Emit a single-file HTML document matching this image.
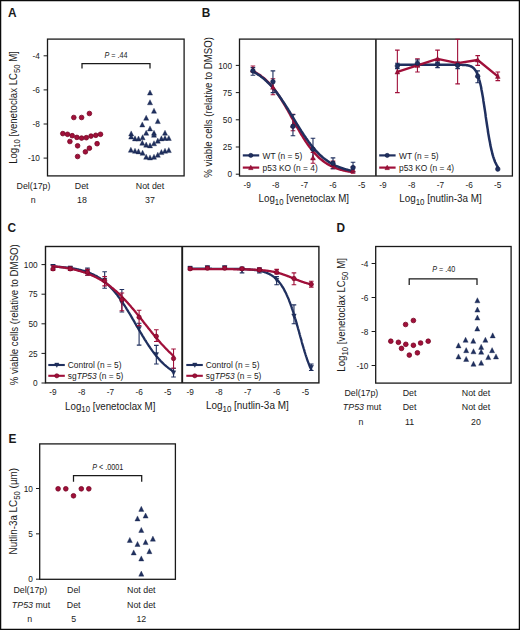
<!DOCTYPE html>
<html><head><meta charset="utf-8"><style>
html,body{margin:0;padding:0;background:#fff;}
body{width:520px;height:630px;overflow:hidden;}
svg{display:block;font-family:"Liberation Sans", sans-serif;}
text{fill:#1a1a1a;}
</style></head><body>
<svg width="520" height="630" viewBox="0 0 520 630">
<rect x="0.6" y="0.6" width="518.8" height="628.8" fill="#fff" stroke="#0a0a0a" stroke-width="1.3"/>
<text transform="translate(8.0,16.9) scale(0.9,1)" font-size="13.2" font-weight="bold">A</text>
<text transform="translate(201.7,16.9) scale(0.9,1)" font-size="13.2" font-weight="bold">B</text>
<text transform="translate(7.6,232.2) scale(0.9,1)" font-size="13.2" font-weight="bold">C</text>
<text transform="translate(336.4,231.5) scale(0.9,1)" font-size="13.2" font-weight="bold">D</text>
<text transform="translate(8.5,442.7) scale(0.9,1)" font-size="13.2" font-weight="bold">E</text>
<rect x="47.50" y="39.10" width="136.60" height="136.80" fill="none" stroke="#1a1a1a" stroke-width="1.3"/>
<line x1="43.60" y1="55.80" x2="47.50" y2="55.80" stroke="#1a1a1a" stroke-width="1"/>
<text transform="translate(39.90,58.95) scale(0.940,1)" font-size="8.80" text-anchor="end" font-weight="normal">-4</text>
<line x1="43.60" y1="89.90" x2="47.50" y2="89.90" stroke="#1a1a1a" stroke-width="1"/>
<text transform="translate(39.90,93.05) scale(0.940,1)" font-size="8.80" text-anchor="end" font-weight="normal">-6</text>
<line x1="43.60" y1="124.00" x2="47.50" y2="124.00" stroke="#1a1a1a" stroke-width="1"/>
<text transform="translate(39.90,127.15) scale(0.940,1)" font-size="8.80" text-anchor="end" font-weight="normal">-8</text>
<line x1="43.60" y1="158.10" x2="47.50" y2="158.10" stroke="#1a1a1a" stroke-width="1"/>
<text transform="translate(39.90,161.25) scale(0.940,1)" font-size="8.80" text-anchor="end" font-weight="normal">-10</text>
<text transform="translate(17.30,107.50) rotate(-90)" font-size="10.20" text-anchor="middle" textLength="112.60" lengthAdjust="spacingAndGlyphs">Log<tspan font-size="8.2" dy="2.5">10</tspan><tspan dy="-2.5"> [venetoclax LC<tspan font-size="8.2" dy="2.5">50</tspan><tspan dy="-2.5"> M]</tspan></tspan></text>
<path d="M82,68.5 V63.5 H150 V68.5" fill="none" stroke="#1a1a1a" stroke-width="1.25"/>
<text transform="translate(116.00,58.30) scale(0.880,1)" font-size="8.20" text-anchor="middle" font-weight="normal"><tspan font-style="italic">P</tspan> = .44</text>
<circle cx="73.80" cy="117.50" r="2.35" fill="#a0103a" stroke="#72001f" stroke-width="0.75"/>
<circle cx="81.60" cy="117.50" r="2.35" fill="#a0103a" stroke="#72001f" stroke-width="0.75"/>
<circle cx="89.40" cy="113.50" r="2.35" fill="#a0103a" stroke="#72001f" stroke-width="0.75"/>
<circle cx="62.80" cy="133.60" r="2.35" fill="#a0103a" stroke="#72001f" stroke-width="0.75"/>
<circle cx="67.50" cy="134.30" r="2.35" fill="#a0103a" stroke="#72001f" stroke-width="0.75"/>
<circle cx="72.20" cy="135.70" r="2.35" fill="#a0103a" stroke="#72001f" stroke-width="0.75"/>
<circle cx="76.90" cy="137.40" r="2.35" fill="#a0103a" stroke="#72001f" stroke-width="0.75"/>
<circle cx="81.60" cy="138.10" r="2.35" fill="#a0103a" stroke="#72001f" stroke-width="0.75"/>
<circle cx="86.30" cy="137.70" r="2.35" fill="#a0103a" stroke="#72001f" stroke-width="0.75"/>
<circle cx="91.00" cy="136.10" r="2.35" fill="#a0103a" stroke="#72001f" stroke-width="0.75"/>
<circle cx="95.80" cy="135.30" r="2.35" fill="#a0103a" stroke="#72001f" stroke-width="0.75"/>
<circle cx="100.50" cy="134.30" r="2.35" fill="#a0103a" stroke="#72001f" stroke-width="0.75"/>
<circle cx="69.90" cy="141.50" r="2.35" fill="#a0103a" stroke="#72001f" stroke-width="0.75"/>
<circle cx="77.60" cy="145.80" r="2.35" fill="#a0103a" stroke="#72001f" stroke-width="0.75"/>
<circle cx="97.10" cy="143.70" r="2.35" fill="#a0103a" stroke="#72001f" stroke-width="0.75"/>
<circle cx="89.40" cy="148.20" r="2.35" fill="#a0103a" stroke="#72001f" stroke-width="0.75"/>
<circle cx="85.40" cy="151.80" r="2.35" fill="#a0103a" stroke="#72001f" stroke-width="0.75"/>
<circle cx="77.60" cy="156.50" r="2.35" fill="#a0103a" stroke="#72001f" stroke-width="0.75"/>
<polygon points="150.00,89.99 147.45,95.09 152.55,95.09" fill="#20305f" stroke="#121f48" stroke-width="0.35" stroke-linejoin="round"/>
<polygon points="150.00,99.69 147.45,104.80 152.55,104.80" fill="#20305f" stroke="#121f48" stroke-width="0.35" stroke-linejoin="round"/>
<polygon points="154.00,108.19 151.45,113.30 156.55,113.30" fill="#20305f" stroke="#121f48" stroke-width="0.35" stroke-linejoin="round"/>
<polygon points="146.20,115.19 143.65,120.30 148.75,120.30" fill="#20305f" stroke="#121f48" stroke-width="0.35" stroke-linejoin="round"/>
<polygon points="157.80,118.49 155.25,123.59 160.35,123.59" fill="#20305f" stroke="#121f48" stroke-width="0.35" stroke-linejoin="round"/>
<polygon points="142.30,121.89 139.75,127.00 144.85,127.00" fill="#20305f" stroke="#121f48" stroke-width="0.35" stroke-linejoin="round"/>
<polygon points="150.00,125.89 147.45,130.99 152.55,130.99" fill="#20305f" stroke="#121f48" stroke-width="0.35" stroke-linejoin="round"/>
<polygon points="146.20,130.19 143.65,135.29 148.75,135.29" fill="#20305f" stroke="#121f48" stroke-width="0.35" stroke-linejoin="round"/>
<polygon points="154.00,130.19 151.45,135.29 156.55,135.29" fill="#20305f" stroke="#121f48" stroke-width="0.35" stroke-linejoin="round"/>
<polygon points="154.00,132.19 151.45,137.29 156.55,137.29" fill="#20305f" stroke="#121f48" stroke-width="0.35" stroke-linejoin="round"/>
<polygon points="131.20,130.89 128.65,135.99 133.75,135.99" fill="#20305f" stroke="#121f48" stroke-width="0.35" stroke-linejoin="round"/>
<polygon points="165.00,130.19 162.45,135.29 167.55,135.29" fill="#20305f" stroke="#121f48" stroke-width="0.35" stroke-linejoin="round"/>
<polygon points="131.20,134.00 128.65,139.09 133.75,139.09" fill="#20305f" stroke="#121f48" stroke-width="0.35" stroke-linejoin="round"/>
<polygon points="135.00,135.79 132.45,140.89 137.55,140.89" fill="#20305f" stroke="#121f48" stroke-width="0.35" stroke-linejoin="round"/>
<polygon points="138.50,136.00 135.95,141.09 141.05,141.09" fill="#20305f" stroke="#121f48" stroke-width="0.35" stroke-linejoin="round"/>
<polygon points="142.60,134.69 140.05,139.79 145.15,139.79" fill="#20305f" stroke="#121f48" stroke-width="0.35" stroke-linejoin="round"/>
<polygon points="157.80,138.09 155.25,143.19 160.35,143.19" fill="#20305f" stroke="#121f48" stroke-width="0.35" stroke-linejoin="round"/>
<polygon points="161.40,135.79 158.85,140.89 163.95,140.89" fill="#20305f" stroke="#121f48" stroke-width="0.35" stroke-linejoin="round"/>
<polygon points="165.00,135.39 162.45,140.49 167.55,140.49" fill="#20305f" stroke="#121f48" stroke-width="0.35" stroke-linejoin="round"/>
<polygon points="168.80,135.39 166.25,140.49 171.35,140.49" fill="#20305f" stroke="#121f48" stroke-width="0.35" stroke-linejoin="round"/>
<polygon points="142.30,140.19 139.75,145.29 144.85,145.29" fill="#20305f" stroke="#121f48" stroke-width="0.35" stroke-linejoin="round"/>
<polygon points="146.20,142.09 143.65,147.19 148.75,147.19" fill="#20305f" stroke="#121f48" stroke-width="0.35" stroke-linejoin="round"/>
<polygon points="150.00,142.79 147.45,147.89 152.55,147.89" fill="#20305f" stroke="#121f48" stroke-width="0.35" stroke-linejoin="round"/>
<polygon points="154.00,140.69 151.45,145.79 156.55,145.79" fill="#20305f" stroke="#121f48" stroke-width="0.35" stroke-linejoin="round"/>
<polygon points="130.90,147.19 128.35,152.29 133.45,152.29" fill="#20305f" stroke="#121f48" stroke-width="0.35" stroke-linejoin="round"/>
<polygon points="135.00,148.19 132.45,153.29 137.55,153.29" fill="#20305f" stroke="#121f48" stroke-width="0.35" stroke-linejoin="round"/>
<polygon points="138.50,148.79 135.95,153.89 141.05,153.89" fill="#20305f" stroke="#121f48" stroke-width="0.35" stroke-linejoin="round"/>
<polygon points="142.60,150.19 140.05,155.29 145.15,155.29" fill="#20305f" stroke="#121f48" stroke-width="0.35" stroke-linejoin="round"/>
<polygon points="146.20,154.19 143.65,159.29 148.75,159.29" fill="#20305f" stroke="#121f48" stroke-width="0.35" stroke-linejoin="round"/>
<polygon points="150.00,154.89 147.45,159.99 152.55,159.99" fill="#20305f" stroke="#121f48" stroke-width="0.35" stroke-linejoin="round"/>
<polygon points="154.00,154.19 151.45,159.29 156.55,159.29" fill="#20305f" stroke="#121f48" stroke-width="0.35" stroke-linejoin="round"/>
<polygon points="157.80,152.19 155.25,157.29 160.35,157.29" fill="#20305f" stroke="#121f48" stroke-width="0.35" stroke-linejoin="round"/>
<polygon points="161.40,149.50 158.85,154.59 163.95,154.59" fill="#20305f" stroke="#121f48" stroke-width="0.35" stroke-linejoin="round"/>
<polygon points="165.00,148.19 162.45,153.29 167.55,153.29" fill="#20305f" stroke="#121f48" stroke-width="0.35" stroke-linejoin="round"/>
<polygon points="168.80,147.50 166.25,152.59 171.35,152.59" fill="#20305f" stroke="#121f48" stroke-width="0.35" stroke-linejoin="round"/>
<text transform="translate(33.50,188.60) scale(0.910,1)" font-size="9.70" text-anchor="middle" font-weight="normal">Del(17p)</text>
<text transform="translate(81.70,188.60) scale(0.910,1)" font-size="9.70" text-anchor="middle" font-weight="normal">Det</text>
<text transform="translate(150.00,188.60) scale(0.910,1)" font-size="9.70" text-anchor="middle" font-weight="normal">Not det</text>
<text transform="translate(33.20,203.30) scale(0.910,1)" font-size="9.70" text-anchor="middle" font-weight="normal">n</text>
<text transform="translate(82.00,203.30) scale(0.910,1)" font-size="9.70" text-anchor="middle" font-weight="normal">18</text>
<text transform="translate(150.00,203.30) scale(0.910,1)" font-size="9.70" text-anchor="middle" font-weight="normal">37</text>
<rect x="239.50" y="39.10" width="272.90" height="136.90" fill="none" stroke="#1a1a1a" stroke-width="1.3"/>
<line x1="375.90" y1="39.10" x2="375.90" y2="176.00" stroke="#2a2a2a" stroke-width="1.7"/>
<line x1="235.80" y1="174.20" x2="239.50" y2="174.20" stroke="#1a1a1a" stroke-width="1"/>
<text transform="translate(232.00,177.35) scale(0.940,1)" font-size="8.80" text-anchor="end" font-weight="normal">0</text>
<line x1="235.80" y1="147.00" x2="239.50" y2="147.00" stroke="#1a1a1a" stroke-width="1"/>
<text transform="translate(232.00,150.15) scale(0.940,1)" font-size="8.80" text-anchor="end" font-weight="normal">25</text>
<line x1="235.80" y1="119.80" x2="239.50" y2="119.80" stroke="#1a1a1a" stroke-width="1"/>
<text transform="translate(232.00,122.95) scale(0.940,1)" font-size="8.80" text-anchor="end" font-weight="normal">50</text>
<line x1="235.80" y1="92.60" x2="239.50" y2="92.60" stroke="#1a1a1a" stroke-width="1"/>
<text transform="translate(232.00,95.75) scale(0.940,1)" font-size="8.80" text-anchor="end" font-weight="normal">75</text>
<line x1="235.80" y1="65.40" x2="239.50" y2="65.40" stroke="#1a1a1a" stroke-width="1"/>
<text transform="translate(232.00,68.55) scale(0.940,1)" font-size="8.80" text-anchor="end" font-weight="normal">100</text>
<text transform="translate(211.50,107.40) rotate(-90)" font-size="10.20" text-anchor="middle" textLength="140.60" lengthAdjust="spacingAndGlyphs">% viable cells (relative to DMSO)</text>
<text transform="translate(247.20,187.85) scale(0.940,1)" font-size="8.80" text-anchor="middle" font-weight="normal">-9</text>
<text transform="translate(383.00,187.85) scale(0.940,1)" font-size="8.80" text-anchor="middle" font-weight="normal">-9</text>
<text transform="translate(275.80,187.85) scale(0.940,1)" font-size="8.80" text-anchor="middle" font-weight="normal">-8</text>
<text transform="translate(411.70,187.85) scale(0.940,1)" font-size="8.80" text-anchor="middle" font-weight="normal">-8</text>
<text transform="translate(304.40,187.85) scale(0.940,1)" font-size="8.80" text-anchor="middle" font-weight="normal">-7</text>
<text transform="translate(440.40,187.85) scale(0.940,1)" font-size="8.80" text-anchor="middle" font-weight="normal">-7</text>
<text transform="translate(333.00,187.85) scale(0.940,1)" font-size="8.80" text-anchor="middle" font-weight="normal">-6</text>
<text transform="translate(469.10,187.85) scale(0.940,1)" font-size="8.80" text-anchor="middle" font-weight="normal">-6</text>
<text transform="translate(361.60,187.85) scale(0.940,1)" font-size="8.80" text-anchor="middle" font-weight="normal">-5</text>
<text transform="translate(497.80,187.85) scale(0.940,1)" font-size="8.80" text-anchor="middle" font-weight="normal">-5</text>
<text x="258.60" y="202.30" font-size="10.20" text-anchor="start" font-weight="normal" textLength="90.40" lengthAdjust="spacingAndGlyphs">Log<tspan font-size="8.2" dy="2.5">10</tspan><tspan dy="-2.5"> [venetoclax M]</tspan></text>
<text x="399.20" y="202.40" font-size="10.20" text-anchor="start" font-weight="normal" textLength="82.50" lengthAdjust="spacingAndGlyphs">Log<tspan font-size="8.2" dy="2.5">10</tspan><tspan dy="-2.5"> [nutlin-3a M]</tspan></text>
<path d="M250.62,71.93H255.22M252.92,71.93V65.94M250.62,65.94H255.22" stroke="#a0103a" stroke-width="1.1" fill="none"/>
<path d="M270.64,94.78H275.24M272.94,94.78V78.78M270.64,78.78H275.24" stroke="#a0103a" stroke-width="1.1" fill="none"/>
<path d="M290.66,130.68H295.26M292.96,130.68V114.36M290.66,114.36H295.26" stroke="#a0103a" stroke-width="1.1" fill="none"/>
<path d="M310.68,163.32H315.28M312.98,163.32V152.44M310.68,152.44H315.28" stroke="#a0103a" stroke-width="1.1" fill="none"/>
<path d="M330.70,168.76H335.30M333.00,168.76V161.14M330.70,161.14H335.30" stroke="#a0103a" stroke-width="1.1" fill="none"/>
<path d="M350.72,173.11H355.32M353.02,173.11V166.58M350.72,166.58H355.32" stroke="#a0103a" stroke-width="1.1" fill="none"/>
<path d="M250.62,75.19H255.22M252.92,75.19V67.58M250.62,67.58H255.22" stroke="#20305f" stroke-width="1.1" fill="none"/>
<path d="M270.64,92.60H275.24M272.94,92.60V70.84M270.64,70.84H275.24" stroke="#20305f" stroke-width="1.1" fill="none"/>
<path d="M290.66,135.68H295.26M292.96,135.68V114.58M290.66,114.58H295.26" stroke="#20305f" stroke-width="1.1" fill="none"/>
<path d="M310.68,158.97H315.28M312.98,158.97V138.30M310.68,138.30H315.28" stroke="#20305f" stroke-width="1.1" fill="none"/>
<path d="M330.70,168.76H335.30M333.00,168.76V157.88M330.70,157.88H335.30" stroke="#20305f" stroke-width="1.1" fill="none"/>
<path d="M350.72,172.02H355.32M353.02,172.02V162.23M350.72,162.23H355.32" stroke="#20305f" stroke-width="1.1" fill="none"/>
<path d="M252.9,71.2 L253.6,71.5 L254.3,71.9 L255.1,72.3 L255.8,72.7 L256.5,73.1 L257.2,73.5 L257.9,73.9 L258.6,74.4 L259.4,74.8 L260.1,75.3 L260.8,75.8 L261.5,76.4 L262.2,76.9 L262.9,77.5 L263.6,78.0 L264.4,78.6 L265.1,79.3 L265.8,79.9 L266.5,80.6 L267.2,81.3 L267.9,82.0 L268.6,82.7 L269.4,83.5 L270.1,84.2 L270.8,85.1 L271.5,85.9 L272.2,86.7 L272.9,87.6 L273.7,88.5 L274.4,89.4 L275.1,90.3 L275.8,91.3 L276.5,92.3 L277.2,93.3 L277.9,94.3 L278.7,95.4 L279.4,96.5 L280.1,97.6 L280.8,98.7 L281.5,99.8 L282.2,100.9 L282.9,102.1 L283.7,103.3 L284.4,104.5 L285.1,105.7 L285.8,106.9 L286.5,108.2 L287.2,109.4 L288.0,110.7 L288.7,112.0 L289.4,113.2 L290.1,114.5 L290.8,115.8 L291.5,117.1 L292.2,118.4 L293.0,119.7 L293.7,121.0 L294.4,122.3 L295.1,123.6 L295.8,124.9 L296.5,126.1 L297.2,127.4 L298.0,128.7 L298.7,129.9 L299.4,131.1 L300.1,132.4 L300.8,133.6 L301.5,134.8 L302.3,135.9 L303.0,137.1 L303.7,138.3 L304.4,139.4 L305.1,140.5 L305.8,141.6 L306.5,142.6 L307.3,143.7 L308.0,144.7 L308.7,145.7 L309.4,146.7 L310.1,147.6 L310.8,148.6 L311.6,149.5 L312.3,150.4 L313.0,151.2 L313.7,152.1 L314.4,152.9 L315.1,153.7 L315.8,154.4 L316.6,155.2 L317.3,155.9 L318.0,156.6 L318.7,157.3 L319.4,158.0 L320.1,158.6 L320.8,159.2 L321.6,159.8 L322.3,160.4 L323.0,160.9 L323.7,161.5 L324.4,162.0 L325.1,162.5 L325.9,163.0 L326.6,163.4 L327.3,163.9 L328.0,164.3 L328.7,164.7 L329.4,165.1 L330.1,165.5 L330.9,165.9 L331.6,166.2 L332.3,166.6 L333.0,166.9 L333.7,167.2 L334.4,167.5 L335.1,167.8 L335.9,168.1 L336.6,168.3 L337.3,168.6 L338.0,168.8 L338.7,169.1 L339.4,169.3 L340.1,169.5 L340.9,169.7 L341.6,169.9 L342.3,170.1 L343.0,170.3 L343.7,170.4 L344.4,170.6 L345.2,170.8 L345.9,170.9 L346.6,171.1 L347.3,171.2 L348.0,171.3 L348.7,171.5 L349.4,171.6 L350.2,171.7 L350.9,171.8 L351.6,171.9 L352.3,172.0 L353.0,172.1" fill="none" stroke="#a0103a" stroke-width="2.5" stroke-linejoin="round" stroke-linecap="round"/>
<path d="M252.9,71.5 L253.6,71.9 L254.3,72.3 L255.1,72.7 L255.8,73.1 L256.5,73.5 L257.2,73.9 L257.9,74.4 L258.6,74.9 L259.4,75.3 L260.1,75.8 L260.8,76.4 L261.5,76.9 L262.2,77.4 L262.9,78.0 L263.6,78.6 L264.4,79.2 L265.1,79.8 L265.8,80.5 L266.5,81.1 L267.2,81.8 L267.9,82.5 L268.6,83.2 L269.4,83.9 L270.1,84.7 L270.8,85.4 L271.5,86.2 L272.2,87.0 L272.9,87.9 L273.7,88.7 L274.4,89.6 L275.1,90.5 L275.8,91.4 L276.5,92.3 L277.2,93.2 L277.9,94.2 L278.7,95.2 L279.4,96.2 L280.1,97.2 L280.8,98.2 L281.5,99.2 L282.2,100.3 L282.9,101.4 L283.7,102.5 L284.4,103.6 L285.1,104.7 L285.8,105.8 L286.5,106.9 L287.2,108.1 L288.0,109.2 L288.7,110.4 L289.4,111.5 L290.1,112.7 L290.8,113.9 L291.5,115.0 L292.2,116.2 L293.0,117.4 L293.7,118.6 L294.4,119.8 L295.1,121.0 L295.8,122.1 L296.5,123.3 L297.2,124.5 L298.0,125.7 L298.7,126.8 L299.4,128.0 L300.1,129.1 L300.8,130.2 L301.5,131.4 L302.3,132.5 L303.0,133.6 L303.7,134.7 L304.4,135.7 L305.1,136.8 L305.8,137.8 L306.5,138.9 L307.3,139.9 L308.0,140.9 L308.7,141.9 L309.4,142.8 L310.1,143.8 L310.8,144.7 L311.6,145.6 L312.3,146.5 L313.0,147.4 L313.7,148.2 L314.4,149.1 L315.1,149.9 L315.8,150.7 L316.6,151.4 L317.3,152.2 L318.0,152.9 L318.7,153.7 L319.4,154.4 L320.1,155.0 L320.8,155.7 L321.6,156.3 L322.3,157.0 L323.0,157.6 L323.7,158.2 L324.4,158.7 L325.1,159.3 L325.9,159.8 L326.6,160.3 L327.3,160.9 L328.0,161.3 L328.7,161.8 L329.4,162.3 L330.1,162.7 L330.9,163.1 L331.6,163.6 L332.3,164.0 L333.0,164.3 L333.7,164.7 L334.4,165.1 L335.1,165.4 L335.9,165.8 L336.6,166.1 L337.3,166.4 L338.0,166.7 L338.7,167.0 L339.4,167.3 L340.1,167.5 L340.9,167.8 L341.6,168.0 L342.3,168.3 L343.0,168.5 L343.7,168.7 L344.4,169.0 L345.2,169.2 L345.9,169.4 L346.6,169.6 L347.3,169.7 L348.0,169.9 L348.7,170.1 L349.4,170.3 L350.2,170.4 L350.9,170.6 L351.6,170.7 L352.3,170.9 L353.0,171.0" fill="none" stroke="#20305f" stroke-width="2.5" stroke-linejoin="round" stroke-linecap="round"/>
<polygon points="252.92,67.11 250.52,71.91 255.32,71.91" fill="#a0103a" stroke="#72001f" stroke-width="0.35" stroke-linejoin="round"/>
<polygon points="272.94,84.52 270.54,89.32 275.34,89.32" fill="#a0103a" stroke="#72001f" stroke-width="0.35" stroke-linejoin="round"/>
<polygon points="292.96,122.60 290.56,127.40 295.36,127.40" fill="#a0103a" stroke="#72001f" stroke-width="0.35" stroke-linejoin="round"/>
<polygon points="312.98,155.24 310.58,160.04 315.38,160.04" fill="#a0103a" stroke="#72001f" stroke-width="0.35" stroke-linejoin="round"/>
<polygon points="333.00,161.77 330.60,166.57 335.40,166.57" fill="#a0103a" stroke="#72001f" stroke-width="0.35" stroke-linejoin="round"/>
<polygon points="353.02,167.21 350.62,172.01 355.42,172.01" fill="#a0103a" stroke="#72001f" stroke-width="0.35" stroke-linejoin="round"/>
<circle cx="252.92" cy="70.84" r="2.3" fill="#20305f" stroke="#121f48" stroke-width="0.6"/>
<circle cx="272.94" cy="81.72" r="2.3" fill="#20305f" stroke="#121f48" stroke-width="0.6"/>
<circle cx="292.96" cy="126.33" r="2.3" fill="#20305f" stroke="#121f48" stroke-width="0.6"/>
<circle cx="312.98" cy="149.18" r="2.3" fill="#20305f" stroke="#121f48" stroke-width="0.6"/>
<circle cx="333.00" cy="163.32" r="2.3" fill="#20305f" stroke="#121f48" stroke-width="0.6"/>
<circle cx="353.02" cy="167.67" r="2.3" fill="#20305f" stroke="#121f48" stroke-width="0.6"/>
<path d="M395.05,92.60H399.65M397.35,92.60V50.17M395.05,50.17H399.65" stroke="#a0103a" stroke-width="1.1" fill="none"/>
<path d="M415.14,71.93H419.74M417.44,71.93V58.87M415.14,58.87H419.74" stroke="#a0103a" stroke-width="1.1" fill="none"/>
<path d="M435.23,64.31H439.83M437.53,64.31V50.17M435.23,50.17H439.83" stroke="#a0103a" stroke-width="1.1" fill="none"/>
<path d="M455.32,83.90H459.92M457.62,83.90V39.29M455.32,39.29H459.92" stroke="#a0103a" stroke-width="1.1" fill="none"/>
<path d="M475.41,65.40H480.01M477.71,65.40V55.61M475.41,55.61H480.01" stroke="#a0103a" stroke-width="1.1" fill="none"/>
<path d="M495.50,80.63H500.10M497.80,80.63V71.93M495.50,71.93H500.10" stroke="#a0103a" stroke-width="1.1" fill="none"/>
<path d="M395.05,68.66H399.65M397.35,68.66V63.22M395.05,63.22H399.65" stroke="#20305f" stroke-width="1.1" fill="none"/>
<path d="M415.14,66.49H419.74M417.44,66.49V59.96M415.14,59.96H419.74" stroke="#20305f" stroke-width="1.1" fill="none"/>
<path d="M435.23,67.58H439.83M437.53,67.58V62.14M435.23,62.14H439.83" stroke="#20305f" stroke-width="1.1" fill="none"/>
<path d="M455.32,68.66H459.92M457.62,68.66V62.14M455.32,62.14H459.92" stroke="#20305f" stroke-width="1.1" fill="none"/>
<path d="M475.41,82.81H480.01M477.71,82.81V70.84M475.41,70.84H480.01" stroke="#20305f" stroke-width="1.1" fill="none"/>
<path d="M397.4,64.7 L397.6,64.7 L397.9,64.7 L398.2,64.7 L398.5,64.7 L398.8,64.7 L399.1,64.7 L399.4,64.7 L399.6,64.7 L399.9,64.7 L400.2,64.7 L400.5,64.7 L400.8,64.7 L401.1,64.7 L401.4,64.7 L401.7,64.7 L401.9,64.7 L402.2,64.7 L402.5,64.7 L402.8,64.7 L403.1,64.7 L403.4,64.7 L403.7,64.7 L404.0,64.7 L404.2,64.7 L404.5,64.7 L404.8,64.7 L405.1,64.7 L405.4,64.7 L405.7,64.7 L406.0,64.7 L406.2,64.7 L406.5,64.7 L406.8,64.7 L407.1,64.7 L407.4,64.7 L407.7,64.7 L408.0,64.7 L408.3,64.7 L408.5,64.7 L408.8,64.7 L409.1,64.7 L409.4,64.7 L409.7,64.7 L410.0,64.7 L410.3,64.7 L410.6,64.7 L410.8,64.7 L411.1,64.7 L411.4,64.7 L411.7,64.7 L412.0,64.7 L412.3,64.7 L412.6,64.7 L412.8,64.7 L413.1,64.7 L413.4,64.7 L413.7,64.7 L414.0,64.7 L414.3,64.7 L414.6,64.7 L414.9,64.7 L415.1,64.7 L415.4,64.7 L415.7,64.7 L416.0,64.7 L416.3,64.7 L416.6,64.7 L416.9,64.7 L417.2,64.7 L417.4,64.7 L417.7,64.7 L418.0,64.7 L418.3,64.7 L418.6,64.7 L418.9,64.7 L419.2,64.7 L419.4,64.7 L419.7,64.7 L420.0,64.7 L420.3,64.7 L420.6,64.7 L420.9,64.7 L421.2,64.7 L421.5,64.7 L421.7,64.7 L422.0,64.7 L422.3,64.7 L422.6,64.7 L422.9,64.7 L423.2,64.7 L423.5,64.7 L423.8,64.7 L424.0,64.7 L424.3,64.7 L424.6,64.7 L424.9,64.7 L425.2,64.7 L425.5,64.7 L425.8,64.7 L426.1,64.7 L426.3,64.7 L426.6,64.7 L426.9,64.7 L427.2,64.7 L427.5,64.7 L427.8,64.7 L428.1,64.7 L428.3,64.7 L428.6,64.7 L428.9,64.7 L429.2,64.7 L429.5,64.7 L429.8,64.7 L430.1,64.7 L430.4,64.7 L430.6,64.7 L430.9,64.7 L431.2,64.7 L431.5,64.7 L431.8,64.7 L432.1,64.7 L432.4,64.7 L432.7,64.7 L432.9,64.7 L433.2,64.7 L433.5,64.7 L433.8,64.7 L434.1,64.7 L434.4,64.7 L434.7,64.7 L434.9,64.7 L435.2,64.7 L435.5,64.7 L435.8,64.7 L436.1,64.7 L436.4,64.7 L436.7,64.7 L437.0,64.7 L437.2,64.7 L437.5,64.7 L437.8,64.7 L438.1,64.7 L438.4,64.7 L438.7,64.7 L439.0,64.7 L439.3,64.7 L439.5,64.7 L439.8,64.7 L440.1,64.7 L440.4,64.7 L440.7,64.7 L441.0,64.7 L441.3,64.7 L441.5,64.7 L441.8,64.7 L442.1,64.7 L442.4,64.7 L442.7,64.7 L443.0,64.7 L443.3,64.7 L443.6,64.7 L443.8,64.7 L444.1,64.7 L444.4,64.7 L444.7,64.7 L445.0,64.7 L445.3,64.7 L445.6,64.7 L445.9,64.7 L446.1,64.7 L446.4,64.7 L446.7,64.7 L447.0,64.7 L447.3,64.7 L447.6,64.7 L447.9,64.7 L448.1,64.7 L448.4,64.7 L448.7,64.7 L449.0,64.7 L449.3,64.7 L449.6,64.7 L449.9,64.7 L450.2,64.7 L450.4,64.7 L450.7,64.7 L451.0,64.7 L451.3,64.7 L451.6,64.7 L451.9,64.7 L452.2,64.7 L452.5,64.7 L452.7,64.7 L453.0,64.7 L453.3,64.7 L453.6,64.7 L453.9,64.7 L454.2,64.7 L454.5,64.7 L454.8,64.7 L455.0,64.7 L455.3,64.7 L455.6,64.7 L455.9,64.7 L456.2,64.7 L456.5,64.7 L456.8,64.7 L457.0,64.7 L457.3,64.7 L457.6,64.8 L457.9,64.8 L458.2,64.8 L458.5,64.8 L458.8,64.8 L459.1,64.8 L459.3,64.8 L459.6,64.8 L459.9,64.8 L460.2,64.8 L460.5,64.8 L460.8,64.8 L461.1,64.8 L461.4,64.8 L461.6,64.8 L461.9,64.8 L462.2,64.9 L462.5,64.9 L462.8,64.9 L463.1,64.9 L463.4,64.9 L463.6,64.9 L463.9,64.9 L464.2,65.0 L464.5,65.0 L464.8,65.0 L465.1,65.0 L465.4,65.1 L465.7,65.1 L465.9,65.1 L466.2,65.1 L466.5,65.2 L466.8,65.2 L467.1,65.3 L467.4,65.3 L467.7,65.4 L468.0,65.4 L468.2,65.5 L468.5,65.5 L468.8,65.6 L469.1,65.7 L469.4,65.8 L469.7,65.9 L470.0,66.0 L470.2,66.1 L470.5,66.2 L470.8,66.3 L471.1,66.4 L471.4,66.6 L471.7,66.7 L472.0,66.9 L472.3,67.1 L472.5,67.3 L472.8,67.5 L473.1,67.7 L473.4,68.0 L473.7,68.2 L474.0,68.5 L474.3,68.8 L474.6,69.2 L474.8,69.5 L475.1,69.9 L475.4,70.3 L475.7,70.8 L476.0,71.2 L476.3,71.8 L476.6,72.3 L476.8,72.9 L477.1,73.5 L477.4,74.2 L477.7,74.9 L478.0,75.7 L478.3,76.5 L478.6,77.4 L478.9,78.3 L479.1,79.3 L479.4,80.3 L479.7,81.4 L480.0,82.5 L480.3,83.7 L480.6,85.0 L480.9,86.3 L481.2,87.7 L481.4,89.2 L481.7,90.7 L482.0,92.3 L482.3,93.9 L482.6,95.6 L482.9,97.3 L483.2,99.1 L483.4,100.9 L483.7,102.7 L484.0,104.6 L484.3,106.5 L484.6,108.5 L484.9,110.4 L485.2,112.4 L485.5,114.4 L485.7,116.4 L486.0,118.4 L486.3,120.4 L486.6,122.3 L486.9,124.3 L487.2,126.2 L487.5,128.1 L487.8,129.9 L488.0,131.8 L488.3,133.6 L488.6,135.3 L488.9,137.0 L489.2,138.7 L489.5,140.3 L489.8,141.8 L490.1,143.3 L490.3,144.8 L490.6,146.2 L490.9,147.6 L491.2,148.9 L491.5,150.1 L491.8,151.3 L492.1,152.5 L492.3,153.6 L492.6,154.6 L492.9,155.6 L493.2,156.6 L493.5,157.5 L493.8,158.4 L494.1,159.2 L494.4,160.0 L494.6,160.8 L494.9,161.5 L495.2,162.2 L495.5,162.8 L495.8,163.4 L496.1,164.0 L496.4,164.6 L496.7,165.1 L496.9,165.6 L497.2,166.0 L497.5,166.5 L497.8,166.9" fill="none" stroke="#20305f" stroke-width="2.5" stroke-linejoin="round" stroke-linecap="round"/>
<path d="M397.4,71.9 L417.4,65.4 L437.5,58.9 L457.6,63.2 L477.7,60.0 L497.8,76.3" fill="none" stroke="#a0103a" stroke-width="2.3" stroke-linejoin="round" stroke-linecap="round"/>
<polygon points="397.35,69.29 394.95,74.09 399.75,74.09" fill="#a0103a" stroke="#72001f" stroke-width="0.35" stroke-linejoin="round"/>
<polygon points="417.44,62.76 415.04,67.56 419.84,67.56" fill="#a0103a" stroke="#72001f" stroke-width="0.35" stroke-linejoin="round"/>
<polygon points="437.53,56.23 435.13,61.03 439.93,61.03" fill="#a0103a" stroke="#72001f" stroke-width="0.35" stroke-linejoin="round"/>
<polygon points="457.62,60.58 455.22,65.38 460.02,65.38" fill="#a0103a" stroke="#72001f" stroke-width="0.35" stroke-linejoin="round"/>
<polygon points="477.71,57.32 475.31,62.12 480.11,62.12" fill="#a0103a" stroke="#72001f" stroke-width="0.35" stroke-linejoin="round"/>
<polygon points="497.80,73.64 495.40,78.44 500.20,78.44" fill="#a0103a" stroke="#72001f" stroke-width="0.35" stroke-linejoin="round"/>
<circle cx="397.35" cy="65.94" r="2.3" fill="#20305f" stroke="#121f48" stroke-width="0.6"/>
<circle cx="417.44" cy="63.22" r="2.3" fill="#20305f" stroke="#121f48" stroke-width="0.6"/>
<circle cx="437.53" cy="64.31" r="2.3" fill="#20305f" stroke="#121f48" stroke-width="0.6"/>
<circle cx="457.62" cy="65.40" r="2.3" fill="#20305f" stroke="#121f48" stroke-width="0.6"/>
<circle cx="477.71" cy="76.28" r="2.3" fill="#20305f" stroke="#121f48" stroke-width="0.6"/>
<circle cx="497.80" cy="169.09" r="2.3" fill="#20305f" stroke="#121f48" stroke-width="0.6"/>
<line x1="242.80" y1="155.40" x2="259.20" y2="155.40" stroke="#20305f" stroke-width="2.2"/>
<circle cx="250.80" cy="155.40" r="2.1" fill="#20305f" stroke="#121f48" stroke-width="0.6"/>
<text transform="translate(262.60,158.64) scale(0.930,1)" font-size="9.00" text-anchor="start" font-weight="normal">WT (n = 5)</text>
<line x1="242.80" y1="167.60" x2="259.20" y2="167.60" stroke="#a0103a" stroke-width="2.2"/>
<polygon points="250.80,165.07 248.50,169.67 253.10,169.67" fill="#a0103a" stroke="#72001f" stroke-width="0.35" stroke-linejoin="round"/>
<text transform="translate(262.60,170.84) scale(0.930,1)" font-size="9.00" text-anchor="start" font-weight="normal">p53 KO (n = 4)</text>
<line x1="379.20" y1="155.40" x2="395.60" y2="155.40" stroke="#20305f" stroke-width="2.2"/>
<circle cx="387.20" cy="155.40" r="2.1" fill="#20305f" stroke="#121f48" stroke-width="0.6"/>
<text transform="translate(399.00,158.64) scale(0.930,1)" font-size="9.00" text-anchor="start" font-weight="normal">WT (n = 5)</text>
<line x1="379.20" y1="167.60" x2="395.60" y2="167.60" stroke="#a0103a" stroke-width="2.2"/>
<polygon points="387.20,165.07 384.90,169.67 389.50,169.67" fill="#a0103a" stroke="#72001f" stroke-width="0.35" stroke-linejoin="round"/>
<text transform="translate(399.00,170.84) scale(0.930,1)" font-size="9.00" text-anchor="start" font-weight="normal">p53 KO (n = 4)</text>
<rect x="45.50" y="246.50" width="273.40" height="136.40" fill="none" stroke="#1a1a1a" stroke-width="1.4"/>
<line x1="182.20" y1="246.50" x2="182.20" y2="382.90" stroke="#1a1a1a" stroke-width="1.9"/>
<line x1="41.50" y1="383.00" x2="45.50" y2="383.00" stroke="#1a1a1a" stroke-width="1"/>
<text transform="translate(37.60,386.15) scale(0.940,1)" font-size="8.80" text-anchor="end" font-weight="normal">0</text>
<line x1="41.50" y1="353.40" x2="45.50" y2="353.40" stroke="#1a1a1a" stroke-width="1"/>
<text transform="translate(37.60,356.55) scale(0.940,1)" font-size="8.80" text-anchor="end" font-weight="normal">25</text>
<line x1="41.50" y1="323.80" x2="45.50" y2="323.80" stroke="#1a1a1a" stroke-width="1"/>
<text transform="translate(37.60,326.95) scale(0.940,1)" font-size="8.80" text-anchor="end" font-weight="normal">50</text>
<line x1="41.50" y1="294.20" x2="45.50" y2="294.20" stroke="#1a1a1a" stroke-width="1"/>
<text transform="translate(37.60,297.35) scale(0.940,1)" font-size="8.80" text-anchor="end" font-weight="normal">75</text>
<line x1="41.50" y1="264.60" x2="45.50" y2="264.60" stroke="#1a1a1a" stroke-width="1"/>
<text transform="translate(37.60,267.75) scale(0.940,1)" font-size="8.80" text-anchor="end" font-weight="normal">100</text>
<text transform="translate(17.90,314.75) rotate(-90)" font-size="10.20" text-anchor="middle" textLength="141.10" lengthAdjust="spacingAndGlyphs">% viable cells (relative to DMSO)</text>
<text transform="translate(53.00,394.65) scale(0.940,1)" font-size="8.80" text-anchor="middle" font-weight="normal">-9</text>
<text transform="translate(190.10,394.65) scale(0.940,1)" font-size="8.80" text-anchor="middle" font-weight="normal">-9</text>
<text transform="translate(81.70,394.65) scale(0.940,1)" font-size="8.80" text-anchor="middle" font-weight="normal">-8</text>
<text transform="translate(218.95,394.65) scale(0.940,1)" font-size="8.80" text-anchor="middle" font-weight="normal">-8</text>
<text transform="translate(110.40,394.65) scale(0.940,1)" font-size="8.80" text-anchor="middle" font-weight="normal">-7</text>
<text transform="translate(247.80,394.65) scale(0.940,1)" font-size="8.80" text-anchor="middle" font-weight="normal">-7</text>
<text transform="translate(139.10,394.65) scale(0.940,1)" font-size="8.80" text-anchor="middle" font-weight="normal">-6</text>
<text transform="translate(276.65,394.65) scale(0.940,1)" font-size="8.80" text-anchor="middle" font-weight="normal">-6</text>
<text transform="translate(167.80,394.65) scale(0.940,1)" font-size="8.80" text-anchor="middle" font-weight="normal">-5</text>
<text transform="translate(305.50,394.65) scale(0.940,1)" font-size="8.80" text-anchor="middle" font-weight="normal">-5</text>
<text x="65.10" y="409.50" font-size="10.20" text-anchor="start" font-weight="normal" textLength="90.30" lengthAdjust="spacingAndGlyphs">Log<tspan font-size="8.2" dy="2.5">10</tspan><tspan dy="-2.5"> [venetoclax M]</tspan></text>
<text x="205.90" y="409.40" font-size="10.20" text-anchor="start" font-weight="normal" textLength="82.80" lengthAdjust="spacingAndGlyphs">Log<tspan font-size="8.2" dy="2.5">10</tspan><tspan dy="-2.5"> [nutlin-3a M]</tspan></text>
<path d="M50.70,269.34H55.30M53.00,269.34V264.60M50.70,264.60H55.30" stroke="#20305f" stroke-width="1.1" fill="none"/>
<path d="M67.92,270.52H72.52M70.22,270.52V266.38M67.92,266.38H72.52" stroke="#20305f" stroke-width="1.1" fill="none"/>
<path d="M85.14,275.26H89.74M87.44,275.26V268.15M85.14,268.15H89.74" stroke="#20305f" stroke-width="1.1" fill="none"/>
<path d="M102.36,288.28H106.96M104.66,288.28V271.70M102.36,271.70H106.96" stroke="#20305f" stroke-width="1.1" fill="none"/>
<path d="M119.58,311.96H124.18M121.88,311.96V289.46M119.58,289.46H124.18" stroke="#20305f" stroke-width="1.1" fill="none"/>
<path d="M136.80,345.11H141.40M139.10,345.11V323.21M136.80,323.21H141.40" stroke="#20305f" stroke-width="1.1" fill="none"/>
<path d="M154.02,364.06H158.62M156.32,364.06V345.35M154.02,345.35H158.62" stroke="#20305f" stroke-width="1.1" fill="none"/>
<path d="M171.24,376.96H175.84M173.54,376.96V368.20M171.24,368.20H175.84" stroke="#20305f" stroke-width="1.1" fill="none"/>
<path d="M53.0,266.5 L53.7,266.6 L54.4,266.6 L55.2,266.6 L55.9,266.7 L56.6,266.7 L57.3,266.8 L58.0,266.8 L58.7,266.9 L59.5,266.9 L60.2,267.0 L60.9,267.0 L61.6,267.1 L62.3,267.2 L63.0,267.2 L63.8,267.3 L64.5,267.4 L65.2,267.4 L65.9,267.5 L66.6,267.6 L67.3,267.7 L68.1,267.8 L68.8,267.9 L69.5,267.9 L70.2,268.0 L70.9,268.1 L71.7,268.3 L72.4,268.4 L73.1,268.5 L73.8,268.6 L74.5,268.7 L75.2,268.9 L76.0,269.0 L76.7,269.1 L77.4,269.3 L78.1,269.4 L78.8,269.6 L79.5,269.8 L80.3,269.9 L81.0,270.1 L81.7,270.3 L82.4,270.5 L83.1,270.7 L83.9,270.9 L84.6,271.1 L85.3,271.3 L86.0,271.6 L86.7,271.8 L87.4,272.1 L88.2,272.3 L88.9,272.6 L89.6,272.9 L90.3,273.2 L91.0,273.5 L91.7,273.8 L92.5,274.1 L93.2,274.5 L93.9,274.8 L94.6,275.2 L95.3,275.5 L96.0,275.9 L96.8,276.3 L97.5,276.8 L98.2,277.2 L98.9,277.6 L99.6,278.1 L100.4,278.6 L101.1,279.1 L101.8,279.6 L102.5,280.1 L103.2,280.7 L103.9,281.2 L104.7,281.8 L105.4,282.4 L106.1,283.0 L106.8,283.7 L107.5,284.3 L108.2,285.0 L109.0,285.7 L109.7,286.4 L110.4,287.1 L111.1,287.9 L111.8,288.6 L112.6,289.4 L113.3,290.2 L114.0,291.1 L114.7,291.9 L115.4,292.8 L116.1,293.7 L116.9,294.6 L117.6,295.5 L118.3,296.5 L119.0,297.5 L119.7,298.4 L120.4,299.5 L121.2,300.5 L121.9,301.5 L122.6,302.6 L123.3,303.7 L124.0,304.8 L124.8,305.9 L125.5,307.0 L126.2,308.1 L126.9,309.3 L127.6,310.4 L128.3,311.6 L129.1,312.8 L129.8,314.0 L130.5,315.2 L131.2,316.4 L131.9,317.6 L132.6,318.9 L133.4,320.1 L134.1,321.3 L134.8,322.6 L135.5,323.8 L136.2,325.1 L136.9,326.3 L137.7,327.5 L138.4,328.8 L139.1,330.0 L139.8,331.2 L140.5,332.4 L141.3,333.7 L142.0,334.9 L142.7,336.1 L143.4,337.2 L144.1,338.4 L144.8,339.6 L145.6,340.7 L146.3,341.9 L147.0,343.0 L147.7,344.1 L148.4,345.2 L149.1,346.3 L149.9,347.3 L150.6,348.4 L151.3,349.4 L152.0,350.4 L152.7,351.4 L153.4,352.3 L154.2,353.3 L154.9,354.2 L155.6,355.1 L156.3,356.0 L157.0,356.9 L157.8,357.7 L158.5,358.6 L159.2,359.4 L159.9,360.1 L160.6,360.9 L161.3,361.7 L162.1,362.4 L162.8,363.1 L163.5,363.8 L164.2,364.5 L164.9,365.1 L165.6,365.7 L166.4,366.4 L167.1,366.9 L167.8,367.5 L168.5,368.1 L169.2,368.6 L170.0,369.1 L170.7,369.7 L171.4,370.1 L172.1,370.6 L172.8,371.1 L173.5,371.5" fill="none" stroke="#20305f" stroke-width="2.3" stroke-linejoin="round" stroke-linecap="round"/>
<polygon points="53.00,269.26 50.70,264.66 55.30,264.66" fill="#20305f" stroke="#121f48" stroke-width="0.35" stroke-linejoin="round"/>
<polygon points="70.22,270.92 67.92,266.32 72.52,266.32" fill="#20305f" stroke="#121f48" stroke-width="0.35" stroke-linejoin="round"/>
<polygon points="87.44,274.23 85.14,269.63 89.74,269.63" fill="#20305f" stroke="#121f48" stroke-width="0.35" stroke-linejoin="round"/>
<polygon points="104.66,282.52 102.36,277.92 106.96,277.92" fill="#20305f" stroke="#121f48" stroke-width="0.35" stroke-linejoin="round"/>
<polygon points="121.88,305.25 119.58,300.65 124.18,300.65" fill="#20305f" stroke="#121f48" stroke-width="0.35" stroke-linejoin="round"/>
<polygon points="139.10,331.07 136.80,326.47 141.40,326.47" fill="#20305f" stroke="#121f48" stroke-width="0.35" stroke-linejoin="round"/>
<polygon points="156.32,357.11 154.02,352.51 158.62,352.51" fill="#20305f" stroke="#121f48" stroke-width="0.35" stroke-linejoin="round"/>
<polygon points="173.54,375.35 171.24,370.75 175.84,370.75" fill="#20305f" stroke="#121f48" stroke-width="0.35" stroke-linejoin="round"/>
<path d="M50.70,270.52H55.30M53.00,270.52V265.78M50.70,265.78H55.30" stroke="#a0103a" stroke-width="1.1" fill="none"/>
<path d="M67.92,270.52H72.52M70.22,270.52V266.97M67.92,266.97H72.52" stroke="#a0103a" stroke-width="1.1" fill="none"/>
<path d="M85.14,275.26H89.74M87.44,275.26V269.34M85.14,269.34H89.74" stroke="#a0103a" stroke-width="1.1" fill="none"/>
<path d="M102.36,285.91H106.96M104.66,285.91V276.44M102.36,276.44H106.96" stroke="#a0103a" stroke-width="1.1" fill="none"/>
<path d="M119.58,310.78H124.18M121.88,310.78V293.02M119.58,293.02H124.18" stroke="#a0103a" stroke-width="1.1" fill="none"/>
<path d="M136.80,325.58H141.40M139.10,325.58V310.18M136.80,310.18H141.40" stroke="#a0103a" stroke-width="1.1" fill="none"/>
<path d="M154.02,341.56H158.62M156.32,341.56V329.72M154.02,329.72H158.62" stroke="#a0103a" stroke-width="1.1" fill="none"/>
<path d="M171.24,368.32H175.84M173.54,368.32V349.02M171.24,349.02H175.84" stroke="#a0103a" stroke-width="1.1" fill="none"/>
<path d="M53.0,266.3 L53.7,266.3 L54.4,266.4 L55.2,266.5 L55.9,266.6 L56.6,266.7 L57.3,266.7 L58.0,266.8 L58.7,266.9 L59.5,267.0 L60.2,267.1 L60.9,267.2 L61.6,267.3 L62.3,267.4 L63.0,267.5 L63.8,267.6 L64.5,267.7 L65.2,267.8 L65.9,268.0 L66.6,268.1 L67.3,268.2 L68.1,268.3 L68.8,268.5 L69.5,268.6 L70.2,268.7 L70.9,268.9 L71.7,269.0 L72.4,269.2 L73.1,269.3 L73.8,269.5 L74.5,269.7 L75.2,269.8 L76.0,270.0 L76.7,270.2 L77.4,270.4 L78.1,270.6 L78.8,270.8 L79.5,271.0 L80.3,271.2 L81.0,271.4 L81.7,271.6 L82.4,271.8 L83.1,272.0 L83.9,272.3 L84.6,272.5 L85.3,272.8 L86.0,273.0 L86.7,273.3 L87.4,273.5 L88.2,273.8 L88.9,274.1 L89.6,274.4 L90.3,274.7 L91.0,275.0 L91.7,275.3 L92.5,275.6 L93.2,275.9 L93.9,276.3 L94.6,276.6 L95.3,277.0 L96.0,277.3 L96.8,277.7 L97.5,278.1 L98.2,278.4 L98.9,278.8 L99.6,279.2 L100.4,279.6 L101.1,280.1 L101.8,280.5 L102.5,280.9 L103.2,281.4 L103.9,281.8 L104.7,282.3 L105.4,282.8 L106.1,283.3 L106.8,283.8 L107.5,284.3 L108.2,284.8 L109.0,285.3 L109.7,285.9 L110.4,286.4 L111.1,287.0 L111.8,287.6 L112.6,288.2 L113.3,288.8 L114.0,289.4 L114.7,290.0 L115.4,290.6 L116.1,291.2 L116.9,291.9 L117.6,292.5 L118.3,293.2 L119.0,293.9 L119.7,294.6 L120.4,295.3 L121.2,296.0 L121.9,296.7 L122.6,297.4 L123.3,298.2 L124.0,298.9 L124.8,299.7 L125.5,300.4 L126.2,301.2 L126.9,302.0 L127.6,302.8 L128.3,303.6 L129.1,304.4 L129.8,305.2 L130.5,306.0 L131.2,306.9 L131.9,307.7 L132.6,308.6 L133.4,309.4 L134.1,310.3 L134.8,311.1 L135.5,312.0 L136.2,312.9 L136.9,313.8 L137.7,314.7 L138.4,315.5 L139.1,316.4 L139.8,317.3 L140.5,318.2 L141.3,319.1 L142.0,320.0 L142.7,320.9 L143.4,321.8 L144.1,322.8 L144.8,323.7 L145.6,324.6 L146.3,325.5 L147.0,326.4 L147.7,327.3 L148.4,328.2 L149.1,329.1 L149.9,330.0 L150.6,330.9 L151.3,331.8 L152.0,332.7 L152.7,333.5 L153.4,334.4 L154.2,335.3 L154.9,336.2 L155.6,337.0 L156.3,337.9 L157.0,338.7 L157.8,339.6 L158.5,340.4 L159.2,341.2 L159.9,342.1 L160.6,342.9 L161.3,343.7 L162.1,344.5 L162.8,345.3 L163.5,346.0 L164.2,346.8 L164.9,347.6 L165.6,348.3 L166.4,349.1 L167.1,349.8 L167.8,350.5 L168.5,351.3 L169.2,352.0 L170.0,352.6 L170.7,353.3 L171.4,354.0 L172.1,354.7 L172.8,355.3 L173.5,356.0" fill="none" stroke="#a0103a" stroke-width="2.3" stroke-linejoin="round" stroke-linecap="round"/>
<circle cx="53.00" cy="268.86" r="2.2" fill="#a0103a" stroke="#72001f" stroke-width="0.6"/>
<circle cx="70.22" cy="268.86" r="2.2" fill="#a0103a" stroke="#72001f" stroke-width="0.6"/>
<circle cx="87.44" cy="272.18" r="2.2" fill="#a0103a" stroke="#72001f" stroke-width="0.6"/>
<circle cx="104.66" cy="280.82" r="2.2" fill="#a0103a" stroke="#72001f" stroke-width="0.6"/>
<circle cx="121.88" cy="299.41" r="2.2" fill="#a0103a" stroke="#72001f" stroke-width="0.6"/>
<circle cx="139.10" cy="317.17" r="2.2" fill="#a0103a" stroke="#72001f" stroke-width="0.6"/>
<circle cx="156.32" cy="336.23" r="2.2" fill="#a0103a" stroke="#72001f" stroke-width="0.6"/>
<circle cx="173.54" cy="358.49" r="2.2" fill="#a0103a" stroke="#72001f" stroke-width="0.6"/>
<path d="M187.80,269.34H192.40M190.10,269.34V266.97M187.80,266.97H192.40" stroke="#20305f" stroke-width="1.1" fill="none"/>
<path d="M205.11,269.34H209.71M207.41,269.34V266.38M205.11,266.38H209.71" stroke="#20305f" stroke-width="1.1" fill="none"/>
<path d="M222.42,269.34H227.02M224.72,269.34V266.38M222.42,266.38H227.02" stroke="#20305f" stroke-width="1.1" fill="none"/>
<path d="M239.73,272.89H244.33M242.03,272.89V266.97M239.73,266.97H244.33" stroke="#20305f" stroke-width="1.1" fill="none"/>
<path d="M257.04,272.89H261.64M259.34,272.89V268.15M257.04,268.15H261.64" stroke="#20305f" stroke-width="1.1" fill="none"/>
<path d="M274.35,284.73H278.95M276.65,284.73V276.44M274.35,276.44H278.95" stroke="#20305f" stroke-width="1.1" fill="none"/>
<path d="M291.66,323.80H296.26M293.96,323.80V304.86M291.66,304.86H296.26" stroke="#20305f" stroke-width="1.1" fill="none"/>
<path d="M308.97,370.57H313.57M311.27,370.57V364.06M308.97,364.06H313.57" stroke="#20305f" stroke-width="1.1" fill="none"/>
<path d="M190.1,268.7 L190.4,268.7 L190.7,268.7 L191.0,268.7 L191.3,268.7 L191.5,268.7 L191.8,268.7 L192.1,268.7 L192.4,268.7 L192.7,268.7 L193.0,268.7 L193.3,268.7 L193.6,268.7 L193.9,268.7 L194.1,268.7 L194.4,268.7 L194.7,268.7 L195.0,268.7 L195.3,268.7 L195.6,268.7 L195.9,268.7 L196.2,268.7 L196.4,268.7 L196.7,268.7 L197.0,268.7 L197.3,268.7 L197.6,268.7 L197.9,268.7 L198.2,268.7 L198.5,268.7 L198.8,268.7 L199.0,268.7 L199.3,268.7 L199.6,268.7 L199.9,268.7 L200.2,268.7 L200.5,268.7 L200.8,268.7 L201.1,268.7 L201.4,268.7 L201.6,268.7 L201.9,268.7 L202.2,268.7 L202.5,268.7 L202.8,268.7 L203.1,268.7 L203.4,268.7 L203.7,268.7 L203.9,268.7 L204.2,268.7 L204.5,268.7 L204.8,268.7 L205.1,268.7 L205.4,268.7 L205.7,268.7 L206.0,268.7 L206.3,268.7 L206.5,268.7 L206.8,268.7 L207.1,268.7 L207.4,268.7 L207.7,268.7 L208.0,268.7 L208.3,268.7 L208.6,268.7 L208.9,268.7 L209.1,268.7 L209.4,268.7 L209.7,268.7 L210.0,268.7 L210.3,268.7 L210.6,268.7 L210.9,268.7 L211.2,268.7 L211.4,268.7 L211.7,268.8 L212.0,268.8 L212.3,268.8 L212.6,268.8 L212.9,268.8 L213.2,268.8 L213.5,268.8 L213.8,268.8 L214.0,268.8 L214.3,268.8 L214.6,268.8 L214.9,268.8 L215.2,268.8 L215.5,268.8 L215.8,268.8 L216.1,268.8 L216.4,268.8 L216.6,268.8 L216.9,268.8 L217.2,268.8 L217.5,268.8 L217.8,268.8 L218.1,268.8 L218.4,268.8 L218.7,268.8 L218.9,268.8 L219.2,268.8 L219.5,268.8 L219.8,268.8 L220.1,268.8 L220.4,268.8 L220.7,268.8 L221.0,268.8 L221.3,268.8 L221.5,268.8 L221.8,268.8 L222.1,268.8 L222.4,268.8 L222.7,268.8 L223.0,268.8 L223.3,268.8 L223.6,268.8 L223.9,268.8 L224.1,268.8 L224.4,268.8 L224.7,268.8 L225.0,268.8 L225.3,268.8 L225.6,268.8 L225.9,268.8 L226.2,268.8 L226.5,268.8 L226.7,268.8 L227.0,268.8 L227.3,268.8 L227.6,268.8 L227.9,268.8 L228.2,268.8 L228.5,268.8 L228.8,268.8 L229.0,268.8 L229.3,268.8 L229.6,268.8 L229.9,268.8 L230.2,268.8 L230.5,268.8 L230.8,268.9 L231.1,268.9 L231.4,268.9 L231.6,268.9 L231.9,268.9 L232.2,268.9 L232.5,268.9 L232.8,268.9 L233.1,268.9 L233.4,268.9 L233.7,268.9 L234.0,268.9 L234.2,268.9 L234.5,268.9 L234.8,268.9 L235.1,268.9 L235.4,268.9 L235.7,268.9 L236.0,268.9 L236.3,268.9 L236.5,268.9 L236.8,268.9 L237.1,269.0 L237.4,269.0 L237.7,269.0 L238.0,269.0 L238.3,269.0 L238.6,269.0 L238.9,269.0 L239.1,269.0 L239.4,269.0 L239.7,269.0 L240.0,269.0 L240.3,269.0 L240.6,269.0 L240.9,269.1 L241.2,269.1 L241.5,269.1 L241.7,269.1 L242.0,269.1 L242.3,269.1 L242.6,269.1 L242.9,269.1 L243.2,269.1 L243.5,269.2 L243.8,269.2 L244.0,269.2 L244.3,269.2 L244.6,269.2 L244.9,269.2 L245.2,269.2 L245.5,269.2 L245.8,269.3 L246.1,269.3 L246.4,269.3 L246.6,269.3 L246.9,269.3 L247.2,269.3 L247.5,269.4 L247.8,269.4 L248.1,269.4 L248.4,269.4 L248.7,269.4 L249.0,269.5 L249.2,269.5 L249.5,269.5 L249.8,269.5 L250.1,269.5 L250.4,269.6 L250.7,269.6 L251.0,269.6 L251.3,269.6 L251.6,269.7 L251.8,269.7 L252.1,269.7 L252.4,269.7 L252.7,269.8 L253.0,269.8 L253.3,269.8 L253.6,269.9 L253.9,269.9 L254.1,269.9 L254.4,270.0 L254.7,270.0 L255.0,270.0 L255.3,270.1 L255.6,270.1 L255.9,270.2 L256.2,270.2 L256.5,270.2 L256.7,270.3 L257.0,270.3 L257.3,270.4 L257.6,270.4 L257.9,270.5 L258.2,270.5 L258.5,270.6 L258.8,270.6 L259.1,270.7 L259.3,270.7 L259.6,270.8 L259.9,270.9 L260.2,270.9 L260.5,271.0 L260.8,271.0 L261.1,271.1 L261.4,271.2 L261.6,271.3 L261.9,271.3 L262.2,271.4 L262.5,271.5 L262.8,271.6 L263.1,271.6 L263.4,271.7 L263.7,271.8 L264.0,271.9 L264.2,272.0 L264.5,272.1 L264.8,272.2 L265.1,272.3 L265.4,272.4 L265.7,272.5 L266.0,272.6 L266.3,272.7 L266.6,272.8 L266.8,272.9 L267.1,273.0 L267.4,273.2 L267.7,273.3 L268.0,273.4 L268.3,273.5 L268.6,273.7 L268.9,273.8 L269.1,274.0 L269.4,274.1 L269.7,274.3 L270.0,274.4 L270.3,274.6 L270.6,274.7 L270.9,274.9 L271.2,275.1 L271.5,275.3 L271.7,275.4 L272.0,275.6 L272.3,275.8 L272.6,276.0 L272.9,276.2 L273.2,276.4 L273.5,276.6 L273.8,276.9 L274.1,277.1 L274.3,277.3 L274.6,277.6 L274.9,277.8 L275.2,278.1 L275.5,278.3 L275.8,278.6 L276.1,278.8 L276.4,279.1 L276.6,279.4 L276.9,279.7 L277.2,280.0 L277.5,280.3 L277.8,280.6 L278.1,280.9 L278.4,281.2 L278.7,281.6 L279.0,281.9 L279.2,282.3 L279.5,282.6 L279.8,283.0 L280.1,283.4 L280.4,283.8 L280.7,284.2 L281.0,284.6 L281.3,285.0 L281.6,285.4 L281.8,285.9 L282.1,286.3 L282.4,286.8 L282.7,287.2 L283.0,287.7 L283.3,288.2 L283.6,288.7 L283.9,289.2 L284.2,289.7 L284.4,290.3 L284.7,290.8 L285.0,291.4 L285.3,291.9 L285.6,292.5 L285.9,293.1 L286.2,293.7 L286.5,294.3 L286.7,294.9 L287.0,295.6 L287.3,296.2 L287.6,296.9 L287.9,297.5 L288.2,298.2 L288.5,298.9 L288.8,299.6 L289.1,300.4 L289.3,301.1 L289.6,301.8 L289.9,302.6 L290.2,303.4 L290.5,304.2 L290.8,305.0 L291.1,305.8 L291.4,306.6 L291.7,307.4 L291.9,308.3 L292.2,309.1 L292.5,310.0 L292.8,310.9 L293.1,311.7 L293.4,312.6 L293.7,313.6 L294.0,314.5 L294.2,315.4 L294.5,316.4 L294.8,317.3 L295.1,318.3 L295.4,319.2 L295.7,320.2 L296.0,321.2 L296.3,322.2 L296.6,323.2 L296.8,324.2 L297.1,325.2 L297.4,326.2 L297.7,327.2 L298.0,328.3 L298.3,329.3 L298.6,330.3 L298.9,331.4 L299.2,332.4 L299.4,333.4 L299.7,334.5 L300.0,335.5 L300.3,336.6 L300.6,337.6 L300.9,338.6 L301.2,339.7 L301.5,340.7 L301.7,341.7 L302.0,342.8 L302.3,343.8 L302.6,344.8 L302.9,345.8 L303.2,346.8 L303.5,347.8 L303.8,348.8 L304.1,349.7 L304.3,350.7 L304.6,351.7 L304.9,352.6 L305.2,353.5 L305.5,354.5 L305.8,355.4 L306.1,356.3 L306.4,357.1 L306.7,358.0 L306.9,358.9 L307.2,359.7 L307.5,360.5 L307.8,361.3 L308.1,362.1 L308.4,362.9 L308.7,363.7 L309.0,364.4 L309.3,365.1 L309.5,365.8 L309.8,366.5 L310.1,367.2 L310.4,367.8 L310.7,368.5 L311.0,369.1 L311.3,369.7" fill="none" stroke="#20305f" stroke-width="2.3" stroke-linejoin="round" stroke-linecap="round"/>
<polygon points="190.10,270.68 187.80,266.08 192.40,266.08" fill="#20305f" stroke="#121f48" stroke-width="0.35" stroke-linejoin="round"/>
<polygon points="207.41,270.09 205.11,265.49 209.71,265.49" fill="#20305f" stroke="#121f48" stroke-width="0.35" stroke-linejoin="round"/>
<polygon points="224.72,270.09 222.42,265.49 227.02,265.49" fill="#20305f" stroke="#121f48" stroke-width="0.35" stroke-linejoin="round"/>
<polygon points="242.03,272.46 239.73,267.86 244.33,267.86" fill="#20305f" stroke="#121f48" stroke-width="0.35" stroke-linejoin="round"/>
<polygon points="259.34,272.46 257.04,267.86 261.64,267.86" fill="#20305f" stroke="#121f48" stroke-width="0.35" stroke-linejoin="round"/>
<polygon points="276.65,282.52 274.35,277.92 278.95,277.92" fill="#20305f" stroke="#121f48" stroke-width="0.35" stroke-linejoin="round"/>
<polygon points="293.96,318.52 291.66,313.92 296.26,313.92" fill="#20305f" stroke="#121f48" stroke-width="0.35" stroke-linejoin="round"/>
<polygon points="311.27,369.78 308.97,365.18 313.57,365.18" fill="#20305f" stroke="#121f48" stroke-width="0.35" stroke-linejoin="round"/>
<path d="M187.80,269.93H192.40M190.10,269.93V267.56M187.80,267.56H192.40" stroke="#a0103a" stroke-width="1.1" fill="none"/>
<path d="M205.11,269.34H209.71M207.41,269.34V266.97M205.11,266.97H209.71" stroke="#a0103a" stroke-width="1.1" fill="none"/>
<path d="M222.42,269.34H227.02M224.72,269.34V266.97M222.42,266.97H227.02" stroke="#a0103a" stroke-width="1.1" fill="none"/>
<path d="M239.73,269.93H244.33M242.03,269.93V267.56M239.73,267.56H244.33" stroke="#a0103a" stroke-width="1.1" fill="none"/>
<path d="M257.04,271.11H261.64M259.34,271.11V268.15M257.04,268.15H261.64" stroke="#a0103a" stroke-width="1.1" fill="none"/>
<path d="M274.35,274.07H278.95M276.65,274.07V269.34M274.35,269.34H278.95" stroke="#a0103a" stroke-width="1.1" fill="none"/>
<path d="M291.66,284.73H296.26M293.96,284.73V272.89M291.66,272.89H296.26" stroke="#a0103a" stroke-width="1.1" fill="none"/>
<path d="M308.97,287.10H313.57M311.27,287.10V281.18M308.97,281.18H313.57" stroke="#a0103a" stroke-width="1.1" fill="none"/>
<path d="M190.1,269.2 L190.4,269.2 L190.7,269.2 L191.0,269.2 L191.3,269.2 L191.5,269.2 L191.8,269.2 L192.1,269.2 L192.4,269.2 L192.7,269.2 L193.0,269.2 L193.3,269.2 L193.6,269.2 L193.9,269.2 L194.1,269.2 L194.4,269.2 L194.7,269.2 L195.0,269.2 L195.3,269.2 L195.6,269.2 L195.9,269.2 L196.2,269.2 L196.4,269.2 L196.7,269.2 L197.0,269.2 L197.3,269.2 L197.6,269.2 L197.9,269.2 L198.2,269.2 L198.5,269.2 L198.8,269.2 L199.0,269.2 L199.3,269.2 L199.6,269.2 L199.9,269.2 L200.2,269.2 L200.5,269.2 L200.8,269.2 L201.1,269.2 L201.4,269.2 L201.6,269.2 L201.9,269.2 L202.2,269.2 L202.5,269.2 L202.8,269.2 L203.1,269.2 L203.4,269.2 L203.7,269.2 L203.9,269.2 L204.2,269.2 L204.5,269.2 L204.8,269.2 L205.1,269.2 L205.4,269.2 L205.7,269.2 L206.0,269.2 L206.3,269.2 L206.5,269.2 L206.8,269.2 L207.1,269.2 L207.4,269.2 L207.7,269.2 L208.0,269.2 L208.3,269.2 L208.6,269.2 L208.9,269.2 L209.1,269.2 L209.4,269.2 L209.7,269.2 L210.0,269.2 L210.3,269.2 L210.6,269.2 L210.9,269.2 L211.2,269.2 L211.4,269.2 L211.7,269.2 L212.0,269.2 L212.3,269.2 L212.6,269.2 L212.9,269.2 L213.2,269.2 L213.5,269.2 L213.8,269.2 L214.0,269.2 L214.3,269.2 L214.6,269.2 L214.9,269.2 L215.2,269.2 L215.5,269.2 L215.8,269.2 L216.1,269.2 L216.4,269.2 L216.6,269.2 L216.9,269.2 L217.2,269.2 L217.5,269.2 L217.8,269.2 L218.1,269.2 L218.4,269.2 L218.7,269.2 L218.9,269.2 L219.2,269.2 L219.5,269.2 L219.8,269.2 L220.1,269.2 L220.4,269.2 L220.7,269.2 L221.0,269.2 L221.3,269.2 L221.5,269.2 L221.8,269.2 L222.1,269.2 L222.4,269.2 L222.7,269.2 L223.0,269.2 L223.3,269.2 L223.6,269.2 L223.9,269.2 L224.1,269.2 L224.4,269.2 L224.7,269.2 L225.0,269.2 L225.3,269.2 L225.6,269.2 L225.9,269.2 L226.2,269.2 L226.5,269.2 L226.7,269.2 L227.0,269.2 L227.3,269.2 L227.6,269.2 L227.9,269.2 L228.2,269.2 L228.5,269.2 L228.8,269.2 L229.0,269.2 L229.3,269.2 L229.6,269.2 L229.9,269.2 L230.2,269.2 L230.5,269.2 L230.8,269.2 L231.1,269.2 L231.4,269.2 L231.6,269.2 L231.9,269.2 L232.2,269.2 L232.5,269.2 L232.8,269.2 L233.1,269.2 L233.4,269.2 L233.7,269.3 L234.0,269.3 L234.2,269.3 L234.5,269.3 L234.8,269.3 L235.1,269.3 L235.4,269.3 L235.7,269.3 L236.0,269.3 L236.3,269.3 L236.5,269.3 L236.8,269.3 L237.1,269.3 L237.4,269.3 L237.7,269.3 L238.0,269.3 L238.3,269.3 L238.6,269.3 L238.9,269.3 L239.1,269.3 L239.4,269.3 L239.7,269.3 L240.0,269.3 L240.3,269.3 L240.6,269.3 L240.9,269.3 L241.2,269.3 L241.5,269.3 L241.7,269.3 L242.0,269.3 L242.3,269.3 L242.6,269.4 L242.9,269.4 L243.2,269.4 L243.5,269.4 L243.8,269.4 L244.0,269.4 L244.3,269.4 L244.6,269.4 L244.9,269.4 L245.2,269.4 L245.5,269.4 L245.8,269.4 L246.1,269.4 L246.4,269.4 L246.6,269.4 L246.9,269.4 L247.2,269.4 L247.5,269.5 L247.8,269.5 L248.1,269.5 L248.4,269.5 L248.7,269.5 L249.0,269.5 L249.2,269.5 L249.5,269.5 L249.8,269.5 L250.1,269.5 L250.4,269.5 L250.7,269.5 L251.0,269.6 L251.3,269.6 L251.6,269.6 L251.8,269.6 L252.1,269.6 L252.4,269.6 L252.7,269.6 L253.0,269.6 L253.3,269.6 L253.6,269.7 L253.9,269.7 L254.1,269.7 L254.4,269.7 L254.7,269.7 L255.0,269.7 L255.3,269.7 L255.6,269.7 L255.9,269.8 L256.2,269.8 L256.5,269.8 L256.7,269.8 L257.0,269.8 L257.3,269.8 L257.6,269.9 L257.9,269.9 L258.2,269.9 L258.5,269.9 L258.8,269.9 L259.1,270.0 L259.3,270.0 L259.6,270.0 L259.9,270.0 L260.2,270.0 L260.5,270.1 L260.8,270.1 L261.1,270.1 L261.4,270.1 L261.6,270.2 L261.9,270.2 L262.2,270.2 L262.5,270.2 L262.8,270.3 L263.1,270.3 L263.4,270.3 L263.7,270.3 L264.0,270.4 L264.2,270.4 L264.5,270.4 L264.8,270.5 L265.1,270.5 L265.4,270.5 L265.7,270.6 L266.0,270.6 L266.3,270.6 L266.6,270.7 L266.8,270.7 L267.1,270.7 L267.4,270.8 L267.7,270.8 L268.0,270.9 L268.3,270.9 L268.6,270.9 L268.9,271.0 L269.1,271.0 L269.4,271.1 L269.7,271.1 L270.0,271.2 L270.3,271.2 L270.6,271.3 L270.9,271.3 L271.2,271.3 L271.5,271.4 L271.7,271.5 L272.0,271.5 L272.3,271.6 L272.6,271.6 L272.9,271.7 L273.2,271.7 L273.5,271.8 L273.8,271.8 L274.1,271.9 L274.3,272.0 L274.6,272.0 L274.9,272.1 L275.2,272.2 L275.5,272.2 L275.8,272.3 L276.1,272.4 L276.4,272.4 L276.6,272.5 L276.9,272.6 L277.2,272.6 L277.5,272.7 L277.8,272.8 L278.1,272.9 L278.4,273.0 L278.7,273.0 L279.0,273.1 L279.2,273.2 L279.5,273.3 L279.8,273.4 L280.1,273.4 L280.4,273.5 L280.7,273.6 L281.0,273.7 L281.3,273.8 L281.6,273.9 L281.8,274.0 L282.1,274.1 L282.4,274.2 L282.7,274.3 L283.0,274.4 L283.3,274.5 L283.6,274.6 L283.9,274.7 L284.2,274.8 L284.4,274.9 L284.7,275.0 L285.0,275.1 L285.3,275.2 L285.6,275.3 L285.9,275.4 L286.2,275.5 L286.5,275.6 L286.7,275.7 L287.0,275.8 L287.3,275.9 L287.6,276.0 L287.9,276.2 L288.2,276.3 L288.5,276.4 L288.8,276.5 L289.1,276.6 L289.3,276.7 L289.6,276.8 L289.9,277.0 L290.2,277.1 L290.5,277.2 L290.8,277.3 L291.1,277.4 L291.4,277.5 L291.7,277.7 L291.9,277.8 L292.2,277.9 L292.5,278.0 L292.8,278.1 L293.1,278.3 L293.4,278.4 L293.7,278.5 L294.0,278.6 L294.2,278.7 L294.5,278.8 L294.8,279.0 L295.1,279.1 L295.4,279.2 L295.7,279.3 L296.0,279.4 L296.3,279.6 L296.6,279.7 L296.8,279.8 L297.1,279.9 L297.4,280.0 L297.7,280.1 L298.0,280.2 L298.3,280.3 L298.6,280.5 L298.9,280.6 L299.2,280.7 L299.4,280.8 L299.7,280.9 L300.0,281.0 L300.3,281.1 L300.6,281.2 L300.9,281.3 L301.2,281.4 L301.5,281.5 L301.7,281.6 L302.0,281.7 L302.3,281.8 L302.6,281.9 L302.9,282.0 L303.2,282.1 L303.5,282.2 L303.8,282.3 L304.1,282.4 L304.3,282.5 L304.6,282.6 L304.9,282.7 L305.2,282.8 L305.5,282.8 L305.8,282.9 L306.1,283.0 L306.4,283.1 L306.7,283.2 L306.9,283.3 L307.2,283.3 L307.5,283.4 L307.8,283.5 L308.1,283.6 L308.4,283.7 L308.7,283.7 L309.0,283.8 L309.3,283.9 L309.5,283.9 L309.8,284.0 L310.1,284.1 L310.4,284.1 L310.7,284.2 L311.0,284.3 L311.3,284.3" fill="none" stroke="#a0103a" stroke-width="2.3" stroke-linejoin="round" stroke-linecap="round"/>
<circle cx="190.10" cy="268.74" r="2.2" fill="#a0103a" stroke="#72001f" stroke-width="0.6"/>
<circle cx="207.41" cy="268.15" r="2.2" fill="#a0103a" stroke="#72001f" stroke-width="0.6"/>
<circle cx="224.72" cy="268.15" r="2.2" fill="#a0103a" stroke="#72001f" stroke-width="0.6"/>
<circle cx="242.03" cy="268.74" r="2.2" fill="#a0103a" stroke="#72001f" stroke-width="0.6"/>
<circle cx="259.34" cy="269.93" r="2.2" fill="#a0103a" stroke="#72001f" stroke-width="0.6"/>
<circle cx="276.65" cy="272.18" r="2.2" fill="#a0103a" stroke="#72001f" stroke-width="0.6"/>
<circle cx="293.96" cy="278.57" r="2.2" fill="#a0103a" stroke="#72001f" stroke-width="0.6"/>
<circle cx="311.27" cy="284.25" r="2.2" fill="#a0103a" stroke="#72001f" stroke-width="0.6"/>
<line x1="48.30" y1="365.00" x2="64.80" y2="365.00" stroke="#20305f" stroke-width="2.1"/>
<polygon points="56.80,367.42 54.60,363.02 59.00,363.02" fill="#20305f" stroke="#121f48" stroke-width="0.35" stroke-linejoin="round"/>
<text transform="translate(67.80,368.24) scale(0.930,1)" font-size="9.00" text-anchor="start" font-weight="normal">Control (n = 5)</text>
<line x1="48.30" y1="375.80" x2="64.80" y2="375.80" stroke="#a0103a" stroke-width="2.1"/>
<circle cx="56.80" cy="375.80" r="2.1" fill="#a0103a" stroke="#72001f" stroke-width="0.6"/>
<text transform="translate(67.80,379.04) scale(0.930,1)" font-size="9.00" text-anchor="start" font-weight="normal">sg<tspan font-style="italic">TP53</tspan> (n = 5)</text>
<line x1="186.30" y1="365.00" x2="202.80" y2="365.00" stroke="#20305f" stroke-width="2.1"/>
<polygon points="194.80,367.42 192.60,363.02 197.00,363.02" fill="#20305f" stroke="#121f48" stroke-width="0.35" stroke-linejoin="round"/>
<text transform="translate(205.80,368.24) scale(0.930,1)" font-size="9.00" text-anchor="start" font-weight="normal">Control (n = 5)</text>
<line x1="186.30" y1="375.80" x2="202.80" y2="375.80" stroke="#a0103a" stroke-width="2.1"/>
<circle cx="194.80" cy="375.80" r="2.1" fill="#a0103a" stroke="#72001f" stroke-width="0.6"/>
<text transform="translate(205.80,379.04) scale(0.930,1)" font-size="9.00" text-anchor="start" font-weight="normal">sg<tspan font-style="italic">TP53</tspan> (n = 5)</text>
<rect x="375.70" y="246.50" width="135.40" height="136.60" fill="none" stroke="#1a1a1a" stroke-width="1.3"/>
<line x1="371.60" y1="263.50" x2="375.70" y2="263.50" stroke="#1a1a1a" stroke-width="1"/>
<text transform="translate(368.40,266.65) scale(0.940,1)" font-size="8.80" text-anchor="end" font-weight="normal">-4</text>
<line x1="371.60" y1="297.50" x2="375.70" y2="297.50" stroke="#1a1a1a" stroke-width="1"/>
<text transform="translate(368.40,300.65) scale(0.940,1)" font-size="8.80" text-anchor="end" font-weight="normal">-6</text>
<line x1="371.60" y1="331.50" x2="375.70" y2="331.50" stroke="#1a1a1a" stroke-width="1"/>
<text transform="translate(368.40,334.65) scale(0.940,1)" font-size="8.80" text-anchor="end" font-weight="normal">-8</text>
<line x1="371.60" y1="365.50" x2="375.70" y2="365.50" stroke="#1a1a1a" stroke-width="1"/>
<text transform="translate(368.40,368.65) scale(0.940,1)" font-size="8.80" text-anchor="end" font-weight="normal">-10</text>
<text transform="translate(345.30,314.90) rotate(-90)" font-size="10.20" text-anchor="middle" textLength="113.60" lengthAdjust="spacingAndGlyphs">Log<tspan font-size="8.2" dy="2.5">10</tspan><tspan dy="-2.5"> [venetoclax LC<tspan font-size="8.2" dy="2.5">50</tspan><tspan dy="-2.5"> M]</tspan></tspan></text>
<path d="M409.2,285 V278.8 H477 V285" fill="none" stroke="#1a1a1a" stroke-width="1.25"/>
<text transform="translate(443.70,272.20) scale(0.880,1)" font-size="8.20" text-anchor="middle" font-weight="normal"><tspan font-style="italic">P</tspan> = .40</text>
<circle cx="405.60" cy="324.50" r="2.35" fill="#a0103a" stroke="#72001f" stroke-width="0.75"/>
<circle cx="413.40" cy="320.50" r="2.35" fill="#a0103a" stroke="#72001f" stroke-width="0.75"/>
<circle cx="390.80" cy="341.20" r="2.35" fill="#a0103a" stroke="#72001f" stroke-width="0.75"/>
<circle cx="398.40" cy="342.30" r="2.35" fill="#a0103a" stroke="#72001f" stroke-width="0.75"/>
<circle cx="405.80" cy="344.30" r="2.35" fill="#a0103a" stroke="#72001f" stroke-width="0.75"/>
<circle cx="413.40" cy="345.30" r="2.35" fill="#a0103a" stroke="#72001f" stroke-width="0.75"/>
<circle cx="420.60" cy="343.00" r="2.35" fill="#a0103a" stroke="#72001f" stroke-width="0.75"/>
<circle cx="428.20" cy="341.20" r="2.35" fill="#a0103a" stroke="#72001f" stroke-width="0.75"/>
<circle cx="401.50" cy="348.40" r="2.35" fill="#a0103a" stroke="#72001f" stroke-width="0.75"/>
<circle cx="409.30" cy="355.10" r="2.35" fill="#a0103a" stroke="#72001f" stroke-width="0.75"/>
<circle cx="417.40" cy="352.80" r="2.35" fill="#a0103a" stroke="#72001f" stroke-width="0.75"/>
<polygon points="477.40,297.69 474.85,302.80 479.95,302.80" fill="#20305f" stroke="#121f48" stroke-width="0.35" stroke-linejoin="round"/>
<polygon points="477.40,307.00 474.85,312.10 479.95,312.10" fill="#20305f" stroke="#121f48" stroke-width="0.35" stroke-linejoin="round"/>
<polygon points="477.40,315.00 474.85,320.10 479.95,320.10" fill="#20305f" stroke="#121f48" stroke-width="0.35" stroke-linejoin="round"/>
<polygon points="477.30,326.00 474.75,331.10 479.85,331.10" fill="#20305f" stroke="#121f48" stroke-width="0.35" stroke-linejoin="round"/>
<polygon points="492.70,332.80 490.15,337.90 495.25,337.90" fill="#20305f" stroke="#121f48" stroke-width="0.35" stroke-linejoin="round"/>
<polygon points="465.60,337.19 463.05,342.30 468.15,342.30" fill="#20305f" stroke="#121f48" stroke-width="0.35" stroke-linejoin="round"/>
<polygon points="473.30,338.19 470.75,343.30 475.85,343.30" fill="#20305f" stroke="#121f48" stroke-width="0.35" stroke-linejoin="round"/>
<polygon points="485.40,337.19 482.85,342.30 487.95,342.30" fill="#20305f" stroke="#121f48" stroke-width="0.35" stroke-linejoin="round"/>
<polygon points="458.50,342.80 455.95,347.90 461.05,347.90" fill="#20305f" stroke="#121f48" stroke-width="0.35" stroke-linejoin="round"/>
<polygon points="481.20,344.30 478.65,349.40 483.75,349.40" fill="#20305f" stroke="#121f48" stroke-width="0.35" stroke-linejoin="round"/>
<polygon points="466.20,347.59 463.65,352.69 468.75,352.69" fill="#20305f" stroke="#121f48" stroke-width="0.35" stroke-linejoin="round"/>
<polygon points="473.50,348.69 470.95,353.80 476.05,353.80" fill="#20305f" stroke="#121f48" stroke-width="0.35" stroke-linejoin="round"/>
<polygon points="481.20,349.19 478.65,354.30 483.75,354.30" fill="#20305f" stroke="#121f48" stroke-width="0.35" stroke-linejoin="round"/>
<polygon points="492.10,347.59 489.55,352.69 494.65,352.69" fill="#20305f" stroke="#121f48" stroke-width="0.35" stroke-linejoin="round"/>
<polygon points="458.50,353.89 455.95,359.00 461.05,359.00" fill="#20305f" stroke="#121f48" stroke-width="0.35" stroke-linejoin="round"/>
<polygon points="466.20,356.39 463.65,361.50 468.75,361.50" fill="#20305f" stroke="#121f48" stroke-width="0.35" stroke-linejoin="round"/>
<polygon points="488.30,354.50 485.75,359.60 490.85,359.60" fill="#20305f" stroke="#121f48" stroke-width="0.35" stroke-linejoin="round"/>
<polygon points="496.00,353.89 493.45,359.00 498.55,359.00" fill="#20305f" stroke="#121f48" stroke-width="0.35" stroke-linejoin="round"/>
<polygon points="473.50,361.19 470.95,366.30 476.05,366.30" fill="#20305f" stroke="#121f48" stroke-width="0.35" stroke-linejoin="round"/>
<polygon points="481.20,360.19 478.65,365.30 483.75,365.30" fill="#20305f" stroke="#121f48" stroke-width="0.35" stroke-linejoin="round"/>
<text transform="translate(361.40,396.00) scale(0.910,1)" font-size="9.70" text-anchor="middle" font-weight="normal">Del(17p)</text>
<text transform="translate(409.60,396.00) scale(0.910,1)" font-size="9.70" text-anchor="middle" font-weight="normal">Det</text>
<text transform="translate(476.00,396.00) scale(0.910,1)" font-size="9.70" text-anchor="middle" font-weight="normal">Not det</text>
<text transform="translate(362.00,410.20) scale(0.910,1)" font-size="9.70" text-anchor="middle" font-weight="normal"><tspan font-style="italic">TP53</tspan> mut</text>
<text transform="translate(409.60,410.20) scale(0.910,1)" font-size="9.70" text-anchor="middle" font-weight="normal">Det</text>
<text transform="translate(476.00,410.20) scale(0.910,1)" font-size="9.70" text-anchor="middle" font-weight="normal">Not det</text>
<text transform="translate(361.00,425.20) scale(0.910,1)" font-size="9.70" text-anchor="middle" font-weight="normal">n</text>
<text transform="translate(409.60,425.20) scale(0.910,1)" font-size="9.70" text-anchor="middle" font-weight="normal">11</text>
<text transform="translate(476.00,425.20) scale(0.910,1)" font-size="9.70" text-anchor="middle" font-weight="normal">20</text>
<rect x="39.70" y="443.90" width="135.70" height="135.40" fill="none" stroke="#1a1a1a" stroke-width="1.3"/>
<line x1="36.00" y1="579.20" x2="39.70" y2="579.20" stroke="#1a1a1a" stroke-width="1"/>
<text transform="translate(32.90,582.35) scale(0.940,1)" font-size="8.80" text-anchor="end" font-weight="normal">0</text>
<line x1="36.00" y1="533.85" x2="39.70" y2="533.85" stroke="#1a1a1a" stroke-width="1"/>
<text transform="translate(32.90,537.00) scale(0.940,1)" font-size="8.80" text-anchor="end" font-weight="normal">5</text>
<line x1="36.00" y1="488.50" x2="39.70" y2="488.50" stroke="#1a1a1a" stroke-width="1"/>
<text transform="translate(32.90,491.65) scale(0.940,1)" font-size="8.80" text-anchor="end" font-weight="normal">10</text>
<text transform="translate(17.00,511.20) rotate(-90)" font-size="10.20" text-anchor="middle" textLength="86.40" lengthAdjust="spacingAndGlyphs">Nutlin-3a LC<tspan font-size="8.2" dy="2.5">50</tspan><tspan dy="-2.5"> (µm)</tspan></text>
<path d="M73.5,481.7 V475.6 H141.7 V481.7" fill="none" stroke="#1a1a1a" stroke-width="1.25"/>
<text transform="translate(123.30,470.20) scale(0.880,1)" font-size="8.20" text-anchor="end" font-weight="normal"><tspan font-style="italic">P</tspan> &lt; .0001</text>
<circle cx="58.10" cy="488.80" r="2.35" fill="#a0103a" stroke="#72001f" stroke-width="0.75"/>
<circle cx="65.80" cy="488.80" r="2.35" fill="#a0103a" stroke="#72001f" stroke-width="0.75"/>
<circle cx="73.50" cy="495.80" r="2.35" fill="#a0103a" stroke="#72001f" stroke-width="0.75"/>
<circle cx="81.30" cy="488.80" r="2.35" fill="#a0103a" stroke="#72001f" stroke-width="0.75"/>
<circle cx="88.80" cy="488.80" r="2.35" fill="#a0103a" stroke="#72001f" stroke-width="0.75"/>
<polygon points="141.30,506.29 138.75,511.39 143.85,511.39" fill="#20305f" stroke="#121f48" stroke-width="0.35" stroke-linejoin="round"/>
<polygon points="145.60,513.00 143.05,518.09 148.15,518.09" fill="#20305f" stroke="#121f48" stroke-width="0.35" stroke-linejoin="round"/>
<polygon points="137.50,515.89 134.95,520.99 140.05,520.99" fill="#20305f" stroke="#121f48" stroke-width="0.35" stroke-linejoin="round"/>
<polygon points="141.30,527.39 138.75,532.49 143.85,532.49" fill="#20305f" stroke="#121f48" stroke-width="0.35" stroke-linejoin="round"/>
<polygon points="129.80,537.39 127.25,542.49 132.35,542.49" fill="#20305f" stroke="#121f48" stroke-width="0.35" stroke-linejoin="round"/>
<polygon points="152.90,536.10 150.35,541.19 155.45,541.19" fill="#20305f" stroke="#121f48" stroke-width="0.35" stroke-linejoin="round"/>
<polygon points="137.50,541.39 134.95,546.49 140.05,546.49" fill="#20305f" stroke="#121f48" stroke-width="0.35" stroke-linejoin="round"/>
<polygon points="145.60,539.50 143.05,544.59 148.15,544.59" fill="#20305f" stroke="#121f48" stroke-width="0.35" stroke-linejoin="round"/>
<polygon points="133.70,549.89 131.15,554.99 136.25,554.99" fill="#20305f" stroke="#121f48" stroke-width="0.35" stroke-linejoin="round"/>
<polygon points="149.40,548.60 146.85,553.69 151.95,553.69" fill="#20305f" stroke="#121f48" stroke-width="0.35" stroke-linejoin="round"/>
<polygon points="141.30,555.89 138.75,560.99 143.85,560.99" fill="#20305f" stroke="#121f48" stroke-width="0.35" stroke-linejoin="round"/>
<polygon points="141.30,571.10 138.75,576.19 143.85,576.19" fill="#20305f" stroke="#121f48" stroke-width="0.35" stroke-linejoin="round"/>
<text transform="translate(30.30,593.40) scale(0.910,1)" font-size="9.70" text-anchor="middle" font-weight="normal">Del(17p)</text>
<text transform="translate(73.70,593.40) scale(0.910,1)" font-size="9.70" text-anchor="middle" font-weight="normal">Del</text>
<text transform="translate(141.30,593.40) scale(0.910,1)" font-size="9.70" text-anchor="middle" font-weight="normal">Not det</text>
<text transform="translate(31.00,607.80) scale(0.910,1)" font-size="9.70" text-anchor="middle" font-weight="normal"><tspan font-style="italic">TP53</tspan> mut</text>
<text transform="translate(73.70,607.80) scale(0.910,1)" font-size="9.70" text-anchor="middle" font-weight="normal">Det</text>
<text transform="translate(141.30,607.80) scale(0.910,1)" font-size="9.70" text-anchor="middle" font-weight="normal">Not det</text>
<text transform="translate(29.80,622.20) scale(0.910,1)" font-size="9.70" text-anchor="middle" font-weight="normal">n</text>
<text transform="translate(73.70,622.20) scale(0.910,1)" font-size="9.70" text-anchor="middle" font-weight="normal">5</text>
<text transform="translate(141.30,622.20) scale(0.910,1)" font-size="9.70" text-anchor="middle" font-weight="normal">12</text>
</svg>
</body></html>
